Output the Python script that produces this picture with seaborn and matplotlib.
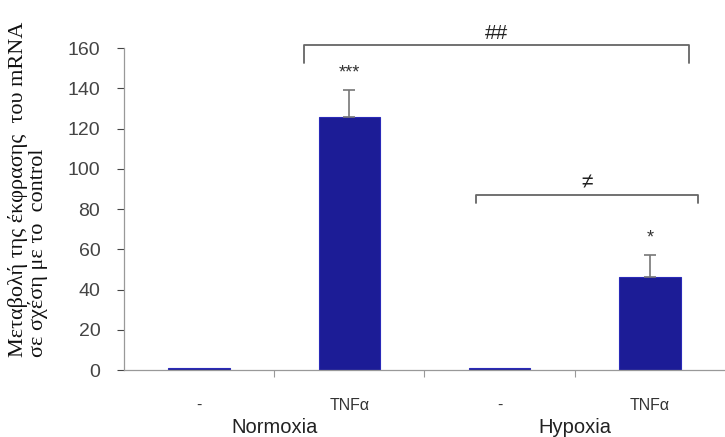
import numpy as np
import pandas as pd
import matplotlib
matplotlib.use('Agg')
import matplotlib.pyplot as plt
import seaborn as sns

# Données
conditions = ['Normoxia -', 'Normoxia TNFα', 'Hypoxia -', 'Hypoxia TNFα']
tick_labels = ['-', 'TNFα', '-', 'TNFα']
groups = ['Normoxia', 'Hypoxia']
values = [1.0, 126.0, 1.0, 46.5]
errors = [0.0, 13.0, 0.0, 10.5]
stars = ['', '***', '', '*']

# Crochets de comparaison (x gauche, x droite, y haut, y bas des pattes, texte)
brackets_x = [(0.70, 3.26), (1.84, 3.32)]
brackets_y = [(161.5, 152.5), (87.0, 83.0)]
brackets_txt = ['##', '≠']

df = pd.DataFrame({'condition': conditions, 'value': values})

sns.set_style('white')
plt.rcParams['font.family'] = ['Liberation Sans', 'DejaVu Sans']

fig = plt.figure(figsize=(7.25, 4.37), dpi=100)
ax = fig.add_axes([0.171, 0.153, 0.829, 0.737])

sns.barplot(data=df, x='condition', y='value', order=conditions, color='#1c1c96',
            width=0.41, edgecolor='#2a2ab8', linewidth=0.8, ax=ax, errorbar=None,
            saturation=1)

pos = np.arange(len(conditions))
err = np.array(errors)
mask = err > 0
ax.errorbar(pos[mask], np.array(values)[mask], yerr=[np.zeros(mask.sum()), err[mask]],
            fmt='none', ecolor='#777777', elinewidth=1.2, capsize=4, capthick=1.2)

for p, v, e, s in zip(pos, values, errors, stars):
    if s:
        ax.text(p, v + e + 4.5, s, ha='center', va='bottom', fontsize=13, color='#333333')

for (x0, x1), (yt, yb), t in zip(brackets_x, brackets_y, brackets_txt):
    ax.plot([x0, x0, x1, x1], [yb, yt, yt, yb], color='#666666', lw=1.3, clip_on=False)
    ax.text((x0 + x1) / 2, yt + 1.0, t, ha='center', va='bottom', fontsize=15,
            color='#222222', clip_on=False)

ax.set_xlim(-0.5, 3.5)
ax.set_ylim(0, 160)
ax.set_yticks(np.arange(0, 161, 20))
ax.tick_params(axis='y', labelsize=14, colors='#444444', length=5, width=0.8,
               direction='out', left=True, pad=12)
ax.set_xticks(pos)
ax.set_xticklabels(tick_labels, fontsize=11.5, color='#333333')
ax.tick_params(axis='x', which='major', length=0, pad=20, bottom=False)
ax.set_xticks([0.5, 1.5, 2.5], minor=True)
ax.tick_params(axis='x', which='minor', length=5, width=0.8, color='#999999',
               bottom=True, direction='out')
ax.set_xlabel('')

for gi, g in enumerate(groups):
    ax.text(0.5 + 2 * gi, -0.148, g, transform=ax.get_xaxis_transform(),
            ha='center', va='top', fontsize=14.5, color='#222222')

for sp in ['top', 'right']:
    ax.spines[sp].set_visible(False)
for sp in ['left', 'bottom']:
    ax.spines[sp].set_color('#999999')
    ax.spines[sp].set_linewidth(0.9)

ax.set_ylabel('Μεταβολή της έκφρασης  του mRNA\nσε σχέση με το  control',
              fontsize=16, family=['Liberation Serif', 'DejaVu Serif'],
              color='#111111', linespacing=0.95, multialignment='left')
ax.yaxis.set_label_coords(-0.127, 0.56)

fig.savefig('out.png', dpi=100)
